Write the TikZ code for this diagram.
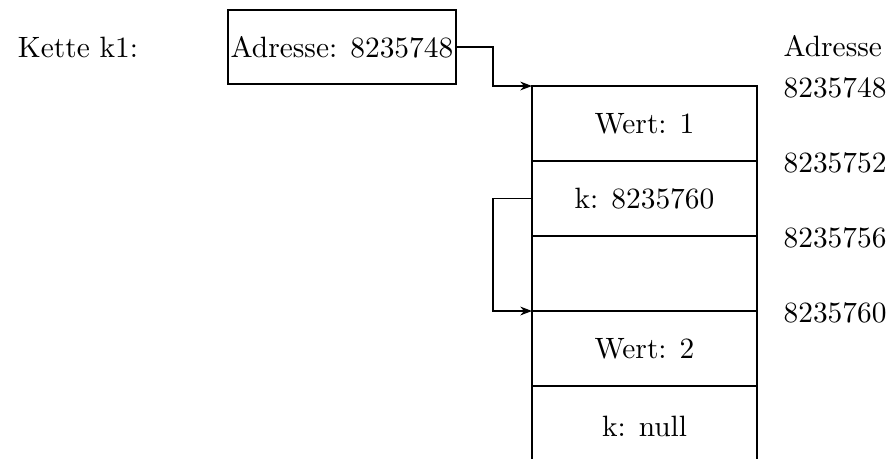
\documentclass[tikz,border=0pt]{standalone}
\usetikzlibrary{arrows.meta}
\begin{document}
\begin{tikzpicture}[x=0.34pt,y=-0.34pt,
  cell/.style={draw,line width=0.4pt,minimum width=225*0.34pt,minimum height=75*0.34pt,inner sep=0pt,outer sep=0pt,anchor=north west},
  lbl/.style={inner sep=0pt,anchor=west},
  conn/.style={line width=0.4pt},
  arr/.style={conn,-{Stealth[length=4pt,width=3pt]}},
  thickline/.style={line width=0.9pt}]
\useasboundingbox (0,0) rectangle (887,458);
\node[inner sep=0pt] (kette) at (78,47) {Kette k1:};
\node[draw,line width=0.4pt,minimum width=228*0.34pt,minimum height=74*0.34pt,inner sep=0pt,outer sep=0pt] (ptr) at (342,47) {Adresse: 8235748};
\node[cell] (r1) at (532,86) {Wert: 1};
\node[cell] (r2) at (532,161) {k: 8235760};
\node[cell] (r3) at (532,236) {};
\node[cell] (r4) at (532,311) {Wert: 2};
\node[inner sep=0pt,outer sep=0pt,minimum width=225*0.34pt,minimum height=80*0.34pt,anchor=north west] (r5) at (532,386) {k: null};
\draw[line width=0.4pt] (r5.south west) -- (r5.north west) -- (r5.north east) -- (r5.south east);
\draw[thickline] (r3.north west) -- (r3.north east);
\draw[thickline] (r4.north west) -- (r4.north east);
\draw[arr] (ptr.east) -- ++(37,0) |- (r1.north west);
\draw[arr] (r2.west) -- ++(-39,0) |- (r4.north west);
\node[inner sep=0pt,anchor=base west] (adr) at (783,56) {Adresse};
\node[lbl] (a1) at (783,88) {8235748};
\node[lbl] (a2) at (783,163) {8235752};
\node[lbl] (a3) at (783,238) {8235756};
\node[lbl] (a4) at (783,313) {8235760};
\end{tikzpicture}
\end{document}
